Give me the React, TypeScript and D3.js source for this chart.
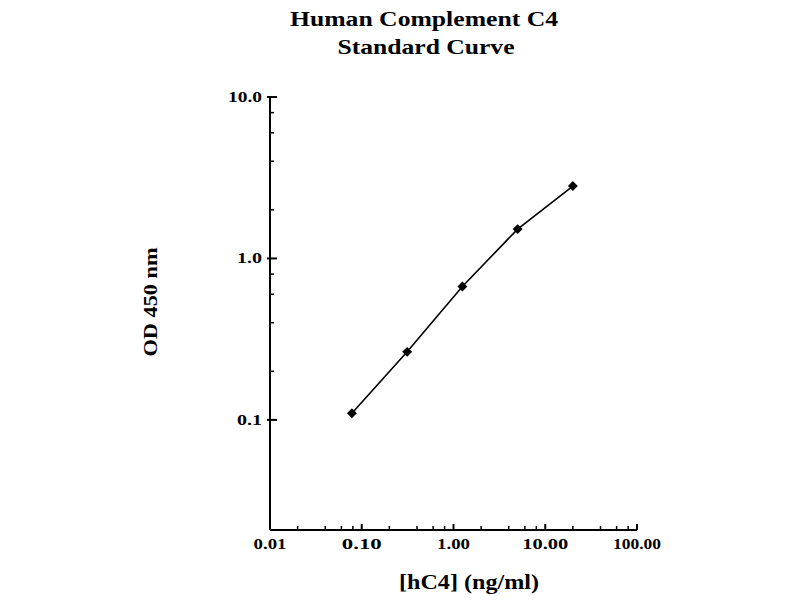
import React from "react";
import * as d3 from "d3";

const concentrations = [0.078125, 0.3125, 1.25, 5, 20];
const odValues = [0.11, 0.264, 0.67, 1.52, 2.81];
const xMajorTicks = [0.01, 0.1, 1, 10, 100];
const xTickLabels = ["0.01", "0.10", "1.00", "10.00", "100.00"];
const yMajorTicks = [10, 1, 0.1];
const yTickLabels = ["10.0", "1.0", "0.1"];
const yMinorTicks = [8, 6, 4, 2, 0.8, 0.6, 0.4, 0.2];
const xMinorTicks = [0.02, 0.04, 0.06, 0.08, 0.2, 0.4, 0.6, 0.8, 2, 4, 6, 8, 20, 40, 60, 80];

const FONT = "'Liberation Serif', 'Times New Roman', serif";

export default function App() {
  const x = d3.scaleLog().domain([0.01, 100]).range([270, 637]);
  const y = d3.scaleLog().domain([0.0208, 10]).range([530, 97]);
  const pts = concentrations.map((c, i) => [x(c), y(odValues[i])] as [number, number]);
  const line = d3.line()(pts) || "";

  return (
    <svg width={800} height={600} style={{ position: "absolute", left: 0, top: 0, background: "#fff" }}>
      <rect x={0} y={0} width={800} height={600} fill="#fff" />
      {/* Title */}
      <text x={424} y={26} textAnchor="middle" fontFamily={FONT} fontWeight="bold" fontSize={21}
        textLength={268} lengthAdjust="spacingAndGlyphs">Human Complement C4</text>
      <text x={426} y={54} textAnchor="middle" fontFamily={FONT} fontWeight="bold" fontSize={21}
        textLength={177} lengthAdjust="spacingAndGlyphs">Standard Curve</text>

      {/* Axes */}
      <line x1={270} y1={97} x2={270} y2={530} stroke="#000" strokeWidth={2} />
      <line x1={270} y1={530} x2={637} y2={530} stroke="#000" strokeWidth={2} />

      {/* Y ticks */}
      {yMajorTicks.map((t, i) => (
        <g key={"ym" + i}>
          <line x1={267} x2={277} y1={y(t)} y2={y(t)} stroke="#000" strokeWidth={2} />
          <text x={262} y={y(t) + 5} textAnchor="end" fontFamily={FONT} fontWeight="bold" fontSize={15}
            textLength={yTickLabels[i].length > 3 ? 34 : 25} lengthAdjust="spacingAndGlyphs">{yTickLabels[i]}</text>
        </g>
      ))}
      {yMinorTicks.map((t, i) => (
        <line key={"yn" + i} x1={270} x2={274} y1={y(t)} y2={y(t)} stroke="#000" strokeWidth={1.5} />
      ))}

      {/* X ticks */}
      {xMajorTicks.map((t, i) => (
        <g key={"xm" + i}>
          <line x1={x(t)} x2={x(t)} y1={530} y2={524} stroke="#000" strokeWidth={2} />
          <text x={x(t)} y={549} textAnchor="middle" fontFamily={FONT} fontWeight="bold" fontSize={15}
            textLength={[33, 40, 33, 46, 48][i]} lengthAdjust="spacingAndGlyphs">{xTickLabels[i]}</text>
        </g>
      ))}
      {xMinorTicks.map((t, i) => (
        <line key={"xn" + i} x1={x(t)} x2={x(t)} y1={530} y2={526} stroke="#000" strokeWidth={1.5} />
      ))}

      {/* Axis labels */}
      <text x={469} y={589} textAnchor="middle" fontFamily={FONT} fontWeight="bold" fontSize={21}
        textLength={140} lengthAdjust="spacingAndGlyphs">[hC4] (ng/ml)</text>
      <text transform="translate(157,302) rotate(-90)" textAnchor="middle" fontFamily={FONT} fontWeight="bold" fontSize={19}
        textLength={109} lengthAdjust="spacingAndGlyphs">OD 450 nm</text>

      {/* Curve */}
      <path d={line} fill="none" stroke="#000" strokeWidth={1.6} />
      {pts.map((p, i) => (
        <rect key={"p" + i} x={p[0] - 3.5} y={p[1] - 3.5} width={7} height={7} fill="#000"
          transform={`rotate(45 ${p[0]} ${p[1]})`} />
      ))}
    </svg>
  );
}
